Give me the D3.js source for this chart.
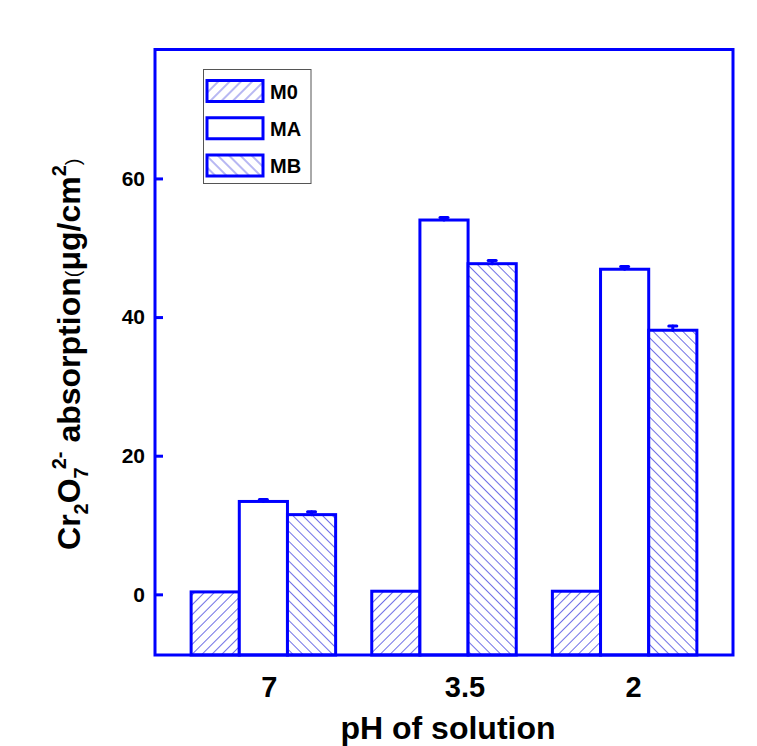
<!DOCTYPE html>
<html>
<head>
<meta charset="utf-8">
<script src="https://cdn.jsdelivr.net/npm/d3@7"></script>
<style>
html,body{margin:0;padding:0;background:#fff;}
svg{display:block;font-family:"Liberation Sans",Arial,Helvetica,sans-serif;}
</style>
</head>
<body>
<svg id="chart" width="757" height="746"></svg>
<script>
// ---- data ----
const categories = ["7", "3.5", "2"];
const seriesNames = ["M0", "MA", "MB"];
const m0Values = [0.35, 0.45, 0.45];
const maValues = [13.4, 54.0, 46.9];
const mbValues = [11.5, 47.7, 38.1];
const m0Errors = [0, 0, 0];
const maErrors = [0.3, 0.35, 0.4];
const mbErrors = [0.4, 0.45, 0.6];
const yTicks = [0, 20, 40, 60];
const yDomain = [-8.75, 78.6];

// ---- layout ----
const L = 155, R = 733, T = 49.5, B = 655;
const BLUE = "#0000ff";
const HATCH = "#7070e6";

const svg = d3.select("#chart");
const defs = svg.append("defs");

function hatch(id, angle, s) {
  const p = defs.append("pattern").attr("id", id)
    .attr("patternUnits", "userSpaceOnUse")
    .attr("width", s).attr("height", s)
    .attr("patternTransform", `rotate(${angle})`);
  p.append("rect").attr("width", s).attr("height", s).attr("fill", "#fff");
  p.append("line").attr("x1", s / 2).attr("x2", s / 2).attr("y1", 0).attr("y2", s)
    .attr("stroke", HATCH).attr("stroke-width", 1);
}
hatch("hM0", 45, 7);
hatch("hMB", -45, 7);
hatch("lhM0", 45, 8);
hatch("lhMB", -45, 8);
const fills = {M0: "url(#hM0)", MA: "#fff", MB: "url(#hMB)"};
const legendFills = {M0: "url(#lhM0)", MA: "#fff", MB: "url(#lhMB)"};

const x0 = d3.scaleBand().domain(categories).range([L, R]).paddingInner(0.2).paddingOuter(0.2);
const x1 = d3.scaleBand().domain(seriesNames).range([0, x0.bandwidth()]).padding(0);
const y = d3.scaleLinear().domain(yDomain).range([B, T]);

const valuesBy = {M0: m0Values, MA: maValues, MB: mbValues};
const errorsBy = {M0: m0Errors, MA: maErrors, MB: mbErrors};
const rows = [];
categories.forEach((c, i) => seriesNames.forEach(s => rows.push({cat: c, series: s, v: valuesBy[s][i], e: errorsBy[s][i]})));

// bars
const bars = svg.append("g");
bars.selectAll("rect").data(rows).join("rect")
  .attr("x", d => x0(d.cat) + x1(d.series))
  .attr("y", d => y(d.v))
  .attr("width", x1.bandwidth())
  .attr("height", d => y(yDomain[0]) - y(d.v))
  .attr("fill", d => fills[d.series])
  .attr("stroke", BLUE).attr("stroke-width", 3);

// error bars (upper only)
const eb = svg.append("g").attr("stroke", BLUE).attr("stroke-width", 3).attr("stroke-linecap", "round");
rows.filter(d => d.e > 0).forEach(d => {
  const cx = x0(d.cat) + x1(d.series) + x1.bandwidth() / 2;
  eb.append("line").attr("x1", cx).attr("x2", cx).attr("y1", y(d.v)).attr("y2", y(d.v + d.e));
  eb.append("line").attr("x1", cx - 4).attr("x2", cx + 4).attr("y1", y(d.v + d.e)).attr("y2", y(d.v + d.e));
});

// frame
svg.append("rect").attr("x", L).attr("y", T).attr("width", R - L).attr("height", B - T)
  .attr("fill", "none").attr("stroke", BLUE).attr("stroke-width", 3);

// y axis
const yAxis = d3.axisRight(y).tickValues(yTicks).tickSize(8).tickFormat(d3.format("d"));
const ya = svg.append("g").attr("transform", `translate(${L},0)`).call(yAxis);
ya.select(".domain").remove();
ya.selectAll(".tick line").attr("stroke", BLUE).attr("stroke-width", 3);
ya.selectAll(".tick text").attr("x", -10).attr("text-anchor", "end")
  .attr("font-size", 21).attr("font-weight", "bold").attr("fill", "#000")
  .attr("font-family", "'Liberation Sans',Arial,sans-serif");

// x axis
const xLabelShift = {"7": 6, "3.5": 21, "2": 9};
const xAxis = d3.axisBottom(x0).tickSize(0).tickPadding(0);
const xa = svg.append("g").attr("transform", `translate(0,${B})`).call(xAxis);
xa.select(".domain").remove();
xa.selectAll(".tick text").attr("y", 42).attr("dy", 0)
  .attr("dx", d => xLabelShift[d])
  .attr("font-size", 29).attr("font-weight", "bold").attr("fill", "#000")
  .attr("font-family", "'Liberation Sans',Arial,sans-serif");

// x title
svg.append("text").attr("x", (L + R) / 2 + 4).attr("y", 739)
  .attr("text-anchor", "middle").attr("font-size", 32).attr("font-weight", "bold")
  .text("pH of solution");

// y title
const yt = svg.append("text")
  .attr("transform", `translate(80,${(T + B) / 2 + 2}) rotate(-90)`)
  .attr("text-anchor", "middle").attr("font-size", 32).attr("font-weight", "bold");
yt.append("tspan").text("Cr");
yt.append("tspan").attr("dy", 8).attr("font-size", 20).text("2");
yt.append("tspan").attr("dy", -8).text("O");
yt.append("tspan").attr("dy", 8).attr("font-size", 20).text("7");
yt.append("tspan").attr("dy", -22).attr("dx", -2).attr("font-size", 20).text("2-");
yt.append("tspan").attr("dy", 14).text(" absorption");
yt.append("tspan").attr("font-size", 20).attr("font-weight", "normal").text("(");
yt.append("tspan").text("μg/cm");
yt.append("tspan").attr("dy", -14).attr("font-size", 20).text("2");
yt.append("tspan").attr("dy", 14).attr("font-size", 20).attr("font-weight", "normal").text(")");

// legend
const lg = svg.append("g");
lg.append("rect").attr("x", 203.5).attr("y", 69.5).attr("width", 107.5).attr("height", 114)
  .attr("fill", "#fff").attr("stroke", "#555").attr("stroke-width", 1);
const ly = d3.scalePoint().domain(seriesNames).range([91, 165.5]);
seriesNames.forEach(s => {
  lg.append("rect").attr("x", 207).attr("y", ly(s) - 10.5).attr("width", 56).attr("height", 21)
    .attr("fill", legendFills[s]).attr("stroke", BLUE).attr("stroke-width", 3);
  lg.append("text").attr("x", 270).attr("y", ly(s) + 7.5).attr("font-size", 20).attr("font-weight", "bold")
    .text(s);
});
</script>
</body>
</html>
